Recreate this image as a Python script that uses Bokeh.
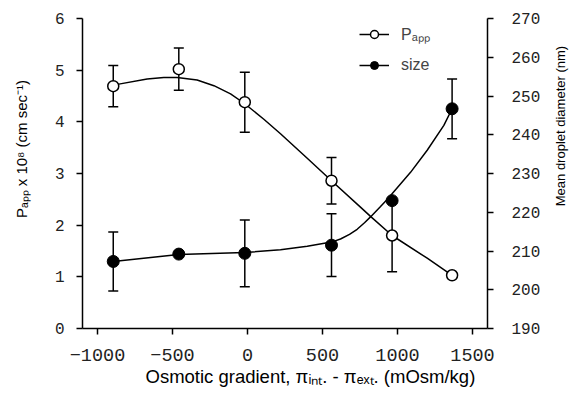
import math
from bokeh.plotting import figure
from bokeh.layouts import row
from bokeh.models import (Range1d, LinearAxis, FixedTicker, ColumnDataSource, Whisker,
                          TeeHead, Legend, LegendItem, Label, Title)
from bokeh.embed import file_html
from bokeh.resources import INLINE

# ---- data ----
gradient = [-895, -458, -18, 560, 964, 1364]
papp = [4.69, 5.02, 4.38, 2.86, 1.80, 1.03]
papp_err = [0.40, 0.41, 0.58, 0.45, 0.70, 0.0]
size_nm = [207.3, 209.2, 209.4, 211.5, 223.0, 246.7]
size_err = [7.6, 0.0, 8.6, 8.1, 0.0, 7.7]

papp_fit_x = [-895, -858, -669, -558, -469, -336, -224, -113, -18, 109, 220, 400, 560, 753, 820, 964, 1198, 1364]
papp_fit_y = [4.69, 4.73, 4.83, 4.86, 4.86, 4.81, 4.70, 4.54, 4.35, 4.05, 3.77, 3.29, 2.86, 2.35, 2.17, 1.80, 1.36, 1.03]

size_fit_x = [-895, -458, -18, 220, 398, 560, 620, 680, 731, 780, 820, 887, 931, 1087, 1198, 1309, 1364]
size_fit_y = [207.3, 209.1, 209.6, 210.3, 211.2, 212.3, 213.1, 214.3, 215.6, 217.3, 218.8, 221.5, 223.3, 230.3, 236.0, 242.4, 246.7]

x_ticks = [-1000, -500, 0, 500, 1000, 1500]
x_tick_labels = ["\u22121000", "\u2212500", "0", "500", "1000", "1500"]
left_ticks = [0, 1, 2, 3, 4, 5, 6]
right_ticks = [190, 200, 210, 220, 230, 240, 250, 260, 270]

x_title = "Osmotic gradient, \u03c0\u1d62\u2099\u209c. - \u03c0\u2091\u2093\u209c. (mOsm/kg)"
y_title = "P\u2090\u209a\u209a x 10\u2078 (cm sec\u207b\u00b9)"
y2_title = "Mean droplet diameter (nm)"
papp_label = "P\u2090\u209a\u209a"
size_label = "size"

TICK_FONT = "Liberation Mono"
TITLE_FONT = "Liberation Sans"

H = 392
LW, MW, RW = 34, 511, 30

p = figure(width=MW, height=H, output_backend="svg", toolbar_location=None,
           x_range=Range1d(-1100, 1600), y_range=Range1d(0, 6),
           min_border_left=48, min_border_right=58, min_border_top=18, min_border_bottom=64)
p.extra_y_ranges = {"size": Range1d(190, 270)}
p.outline_line_color = None
p.grid.visible = False
p.background_fill_color = "white"

def style_axis(ax, font_size, standoff):
    ax.axis_line_width = 1.5
    ax.axis_line_color = "black"
    ax.major_tick_line_width = 1.5
    ax.major_tick_line_color = "black"
    ax.major_tick_out = 6
    ax.major_tick_in = 0
    ax.minor_tick_line_color = None
    ax.major_label_text_font = TICK_FONT
    ax.major_label_text_font_size = font_size
    ax.major_label_text_color = "#222222"
    ax.major_label_standoff = standoff

xa = p.xaxis[0]
xa.ticker = FixedTicker(ticks=x_ticks)
xa.major_label_overrides = {t: l for t, l in zip(x_ticks, x_tick_labels)}
style_axis(xa, "18.5px", 14)

ya = p.yaxis[0]
ya.ticker = FixedTicker(ticks=left_ticks)
style_axis(ya, "16px", 12)

ra = LinearAxis(y_range_name="size", ticker=FixedTicker(ticks=right_ticks))
style_axis(ra, "16px", 18)
p.add_layout(ra, "right")

# x-axis title, shifted right like the original
p.add_layout(Title(text=x_title, align="left", offset=63, vertical_align="top", standoff=5,
                   text_font=TITLE_FONT, text_font_size="18.5px", text_font_style="normal",
                   text_color="black"), "below")

# error bars
pe = [(x, y, e) for x, y, e in zip(gradient, papp, papp_err) if e > 0]
pe_src = ColumnDataSource(dict(x=[a[0] for a in pe], lo=[a[1] - a[2] for a in pe], hi=[a[1] + a[2] for a in pe]))
se = [(x, y, e) for x, y, e in zip(gradient, size_nm, size_err) if e > 0]
se_src = ColumnDataSource(dict(x=[a[0] for a in se], lo=[a[1] - a[2] for a in se], hi=[a[1] + a[2] for a in se]))

for src, rng in ((pe_src, "default"), (se_src, "size")):
    w = Whisker(source=src, base="x", lower="lo", upper="hi", dimension="height",
                line_color="black", line_width=1.5,
                lower_head=TeeHead(size=10, line_width=1.5, line_color="black"),
                upper_head=TeeHead(size=10, line_width=1.5, line_color="black"),
                y_range_name=rng, level="underlay")
    p.add_layout(w)

# fit curves
l1 = p.line(papp_fit_x, papp_fit_y, line_color="black", line_width=1.5)
l2 = p.line(size_fit_x, size_fit_y, line_color="black", line_width=1.5, y_range_name="size")

# markers
m1 = p.scatter(gradient, papp, marker="circle", size=11, fill_color="white", line_color="black", line_width=1.5)
m2 = p.scatter(gradient, size_nm, marker="circle", size=12, fill_color="black", line_color="black",
               y_range_name="size")

legend = Legend(items=[LegendItem(label=papp_label, renderers=[l1, m1]),
                       LegendItem(label=size_label, renderers=[l2, m2])],
                location=(277, 253), orientation="vertical")
legend.padding = 0
legend.margin = 0
legend.spacing = 10
legend.glyph_width = 30
legend.glyph_height = 20
legend.label_height = 20
legend.label_standoff = 12
legend.label_text_font = TITLE_FONT
legend.label_text_font_size = "16px"
legend.border_line_color = None
legend.background_fill_alpha = 0
p.add_layout(legend)

def side_panel(width, text, cx, cy, size):
    f = figure(width=width, height=H, output_backend="svg", toolbar_location=None,
               x_range=Range1d(0, width), y_range=Range1d(0, H),
               x_axis_location=None, y_axis_location=None, min_border=0)
    f.outline_line_color = None
    f.grid.visible = False
    f.add_layout(Label(x=cx, y=H - cy, text=text, text_font=TITLE_FONT, text_font_size=size,
                       text_align="center", text_baseline="middle", angle=math.pi / 2,
                       text_color="black"))
    return f

left_fig = side_panel(LW, y_title, 21, 165, "15px")
right_fig = side_panel(RW, y2_title, 15, 136, "13px")

layout = row(left_fig, p, right_fig)
open("out.html", "w").write(file_html(layout, INLINE))
